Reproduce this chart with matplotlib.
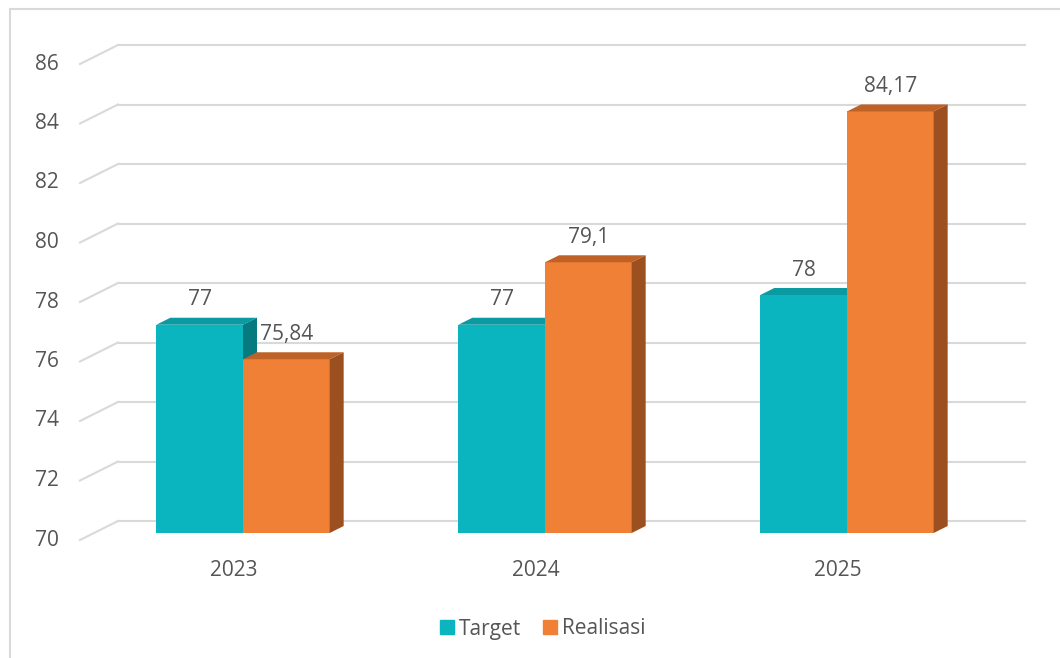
import matplotlib.pyplot as plt
from matplotlib.patches import Polygon, Rectangle
from matplotlib.lines import Line2D
from matplotlib.transforms import Affine2D

years = ["2023", "2024", "2025"]
target = [77, 77, 78]
realisasi = [75.84, 79.1, 84.17]
yticks = [70, 72, 74, 76, 78, 80, 82, 84, 86]

c_target = ("#0AB5BF", "#0B9AA1", "#077A80")     # front, top, side
c_real = ("#F08035", "#BF6228", "#9C501F")

plt.rcParams['font.family'] = ['Open Sans', 'DejaVu Sans']
txt = "#555555"
fs = 15

fig = plt.figure(figsize=(10.6, 6.58), dpi=100)
W, H = 1060, 658

# axes = plane of the bars' front faces (pixel layout of the reference)
left, right, bottom, top = 94, 1001, 533, 57
ax = fig.add_axes([left / W, (H - bottom) / H, (right - left) / W, (bottom - top) / H])
xpx = 302  # pixels per category
ax.set_xlim((left - 243) / xpx, (right - 243) / xpx)
ax.set_ylim(70, 86)
ax.axis("off")

ypx = (bottom - top) / 16
bw = 0.287
ddx, ddy = 14 / xpx, 7 / ypx   # bar depth in data units

# gridlines: back wall and the little diagonal on the floor
back = ax.transData + Affine2D().translate(24, 12)
front = ax.transData + Affine2D().translate(-14, -7)
x0, x1 = ax.get_xlim()
for t in yticks:
    ax.plot([x0, x1], [t, t], color="#D9D9D9", lw=1.5, transform=back, clip_on=False, zorder=1)
    p_front = front.transform((x0, t))
    p_back = back.transform((x0, t))
    fig.add_artist(Line2D([p_front[0] / W, p_back[0] / W], [p_front[1] / H, p_back[1] / H],
                          color="#D9D9D9", lw=1.5, transform=fig.transFigure))
    ax.text(x0, t, str(t), transform=front + Affine2D().translate(-21, 0),
            ha="right", va="center", fontsize=fs, color=txt)


def bar3d(x, v, cols):
    ax.bar(x, v - 70, bw, bottom=70, align="edge", color=cols[0], lw=0, zorder=3)
    top_face = [(x, v), (x + bw, v), (x + bw + ddx, v + ddy), (x + ddx, v + ddy)]
    side_face = [(x + bw, 70), (x + bw + ddx, 70 + ddy), (x + bw + ddx, v + ddy), (x + bw, v)]
    ax.add_patch(Polygon(top_face, closed=True, fc=cols[1], lw=0, zorder=3, clip_on=False))
    ax.add_patch(Polygon(side_face, closed=True, fc=cols[2], lw=0, zorder=3, clip_on=False))
    lab = f"{v:g}".replace(".", ",")
    ax.text(x + bw / 2, v, lab, transform=ax.transData + Affine2D().translate(0, 25),
            ha="center", va="center", fontsize=fs, color=txt, zorder=5)


for i in range(len(years)):
    bar3d(i - bw, target[i], c_target)
    bar3d(i, realisasi[i], c_real)
    ax.text(i, 70, years[i], transform=ax.transData + Affine2D().translate(-9, -37),
            ha="center", va="center", fontsize=fs, color=txt)

handles = [Line2D([], [], ls="", marker="s", ms=10, mfc=c_target[0], mec=c_target[0], label="Target"),
           Line2D([], [], ls="", marker="s", ms=10, mfc=c_real[0], mec=c_real[0], label="Realisasi")]
fig.legend(handles=handles, loc="center", bbox_to_anchor=(541 / W, 29 / H), ncol=2, frameon=False,
           handletextpad=0.05, columnspacing=0.9, handlelength=1.0,
           prop={"size": fs}, labelcolor=txt)

# outer chart frame (runs off the right and bottom edges)
fig.add_artist(Rectangle((9.5 / W, -0.1), 1.2, (H - 9.5) / H + 0.1, transform=fig.transFigure,
                         fill=False, ec="#D9D9D9", lw=1.5))

fig.savefig("out.png", dpi=100)
